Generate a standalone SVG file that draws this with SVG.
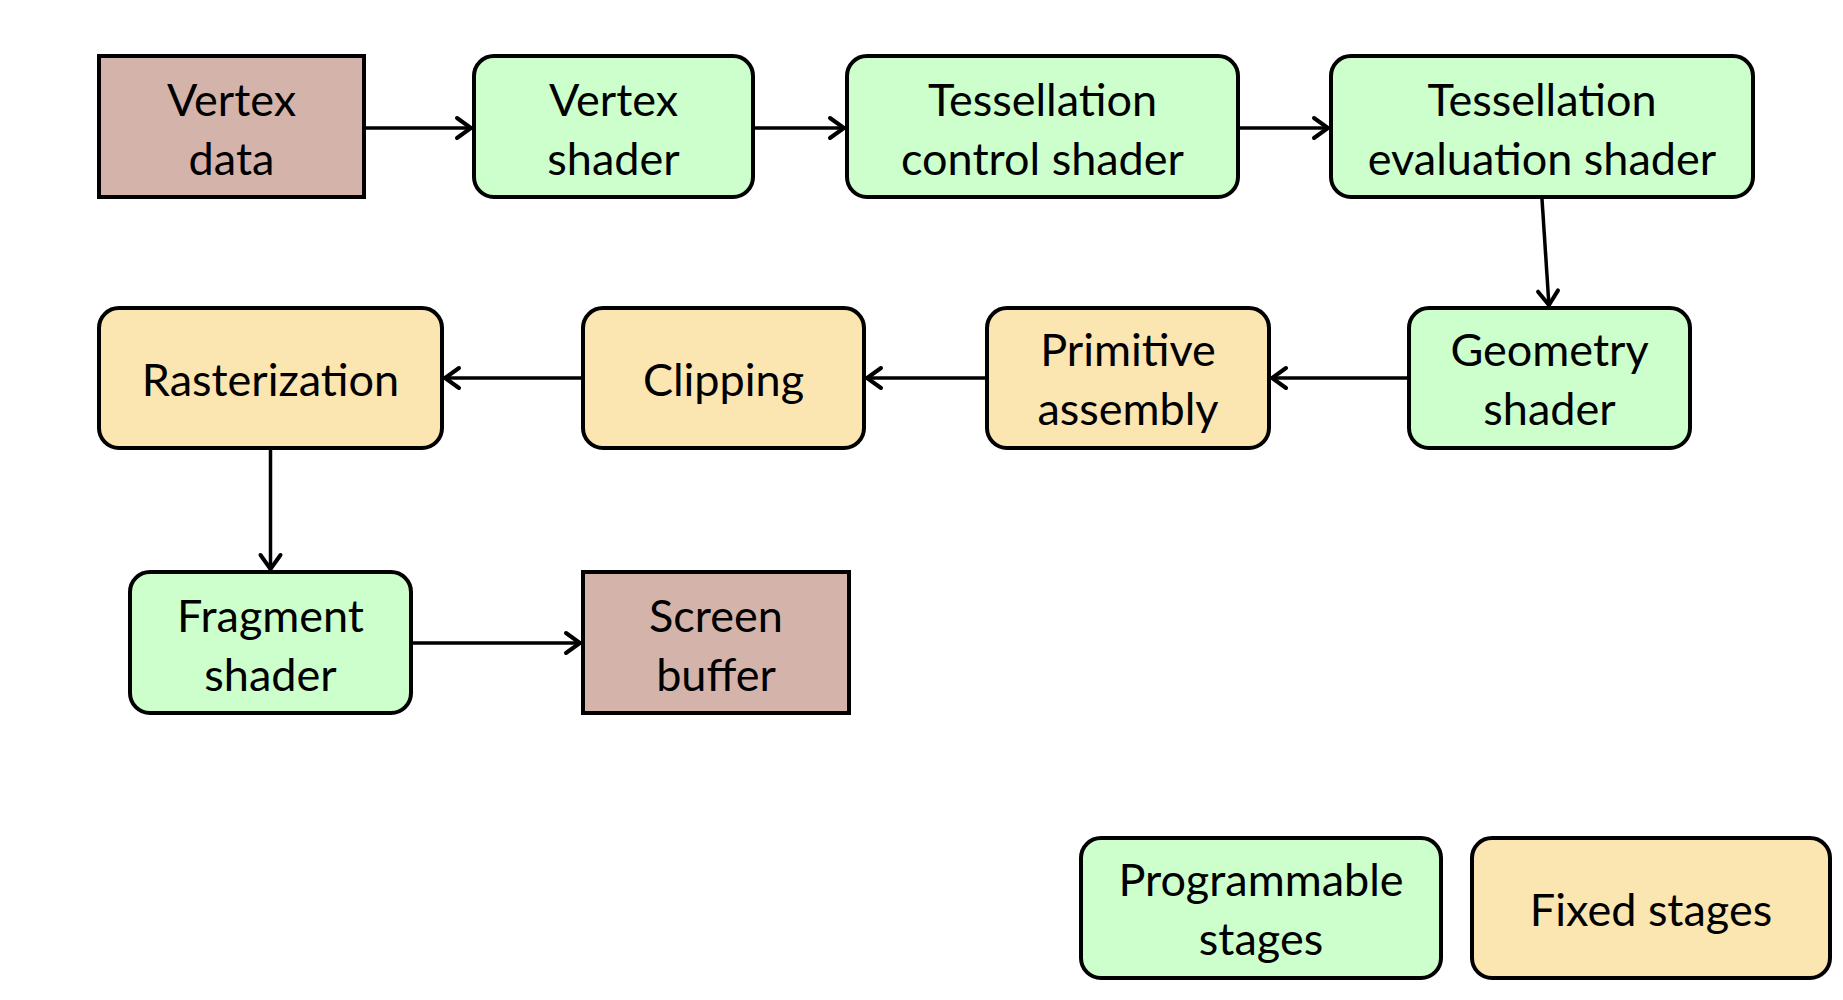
<svg xmlns="http://www.w3.org/2000/svg" width="1843" height="1000" viewBox="0 0 1843 1000">
<style>
.prog{fill:#ccffcc;stroke:#000;stroke-width:4}
.fixed{fill:#fbe5b0;stroke:#000;stroke-width:4}
.data{fill:#d4b4aa;stroke:#000;stroke-width:4}
text{font-family:Lato,"Open Sans","Liberation Sans",sans-serif;font-size:45px;fill:#000;text-anchor:middle}
.conn line{stroke:#000;stroke-width:3.5;marker-end:url(#arr)}
</style>
<defs>
<marker id="arr" markerUnits="userSpaceOnUse" markerWidth="30" markerHeight="30" viewBox="-20 -15 30 30" refX="0" refY="0" orient="auto">
<path d="M -15 -10 L -1 0 L -15 10" fill="none" stroke="#000" stroke-width="4" stroke-linecap="round" stroke-linejoin="miter"/>
</marker>
</defs>
<rect width="1843" height="1000" fill="#fff"/>
<g class="conn" id="connectors">
<line x1="364" y1="128" x2="472" y2="128"/>
<line x1="753" y1="128" x2="845" y2="128"/>
<line x1="1238" y1="128" x2="1329" y2="128"/>
<line x1="1542" y1="199" x2="1549" y2="306"/>
<line x1="1409" y1="378" x2="1271" y2="378"/>
<line x1="987" y1="378" x2="866" y2="378"/>
<line x1="583" y1="378" x2="444" y2="378"/>
<line x1="270.5" y1="450" x2="270.5" y2="570"/>
<line x1="411" y1="643" x2="581" y2="643"/>
</g>
<g id="vertex-data"><rect class="data" x="99" y="56" width="265" height="141"/><text x="231.5" y="116">Vertex</text><text x="231.5" y="175">data</text></g>
<g id="vertex-shader"><rect class="prog" x="474" y="56" width="279" height="141" rx="20"/><text x="613.5" y="116">Vertex</text><text x="613.5" y="175">shader</text></g>
<g id="tess-control"><rect class="prog" x="847" y="56" width="391" height="141" rx="20"/><text x="1042.5" y="116">Tessellation</text><text x="1042.5" y="175">control shader</text></g>
<g id="tess-eval"><rect class="prog" x="1331" y="56" width="422" height="141" rx="20"/><text x="1542" y="116">Tessellation</text><text x="1542" y="175">evaluation shader</text></g>
<g id="geometry"><rect class="prog" x="1409" y="308" width="281" height="140" rx="20"/><text x="1549.5" y="366">Geometry</text><text x="1549.5" y="425">shader</text></g>
<g id="primitive"><rect class="fixed" x="987" y="308" width="282" height="140" rx="20"/><text x="1128" y="366">Primitive</text><text x="1128" y="425">assembly</text></g>
<g id="clipping"><rect class="fixed" x="583" y="308" width="281" height="140" rx="20"/><text x="723.5" y="396">Clipping</text></g>
<g id="rasterization"><rect class="fixed" x="99" y="308" width="343" height="140" rx="20"/><text x="270.5" y="396">Rasterization</text></g>
<g id="fragment"><rect class="prog" x="130" y="572" width="281" height="141" rx="20"/><text x="270.5" y="632">Fragment</text><text x="270.5" y="691">shader</text></g>
<g id="screen"><rect class="data" x="583" y="572" width="266" height="141"/><text x="716" y="632">Screen</text><text x="716" y="691">buffer</text></g>
<g id="legend-programmable"><rect class="prog" x="1081" y="838" width="360" height="140" rx="20"/><text x="1261" y="896">Programmable</text><text x="1261" y="955">stages</text></g>
<g id="legend-fixed"><rect class="fixed" x="1472" y="838" width="358" height="140" rx="20"/><text x="1651" y="926">Fixed stages</text></g>
</svg>
